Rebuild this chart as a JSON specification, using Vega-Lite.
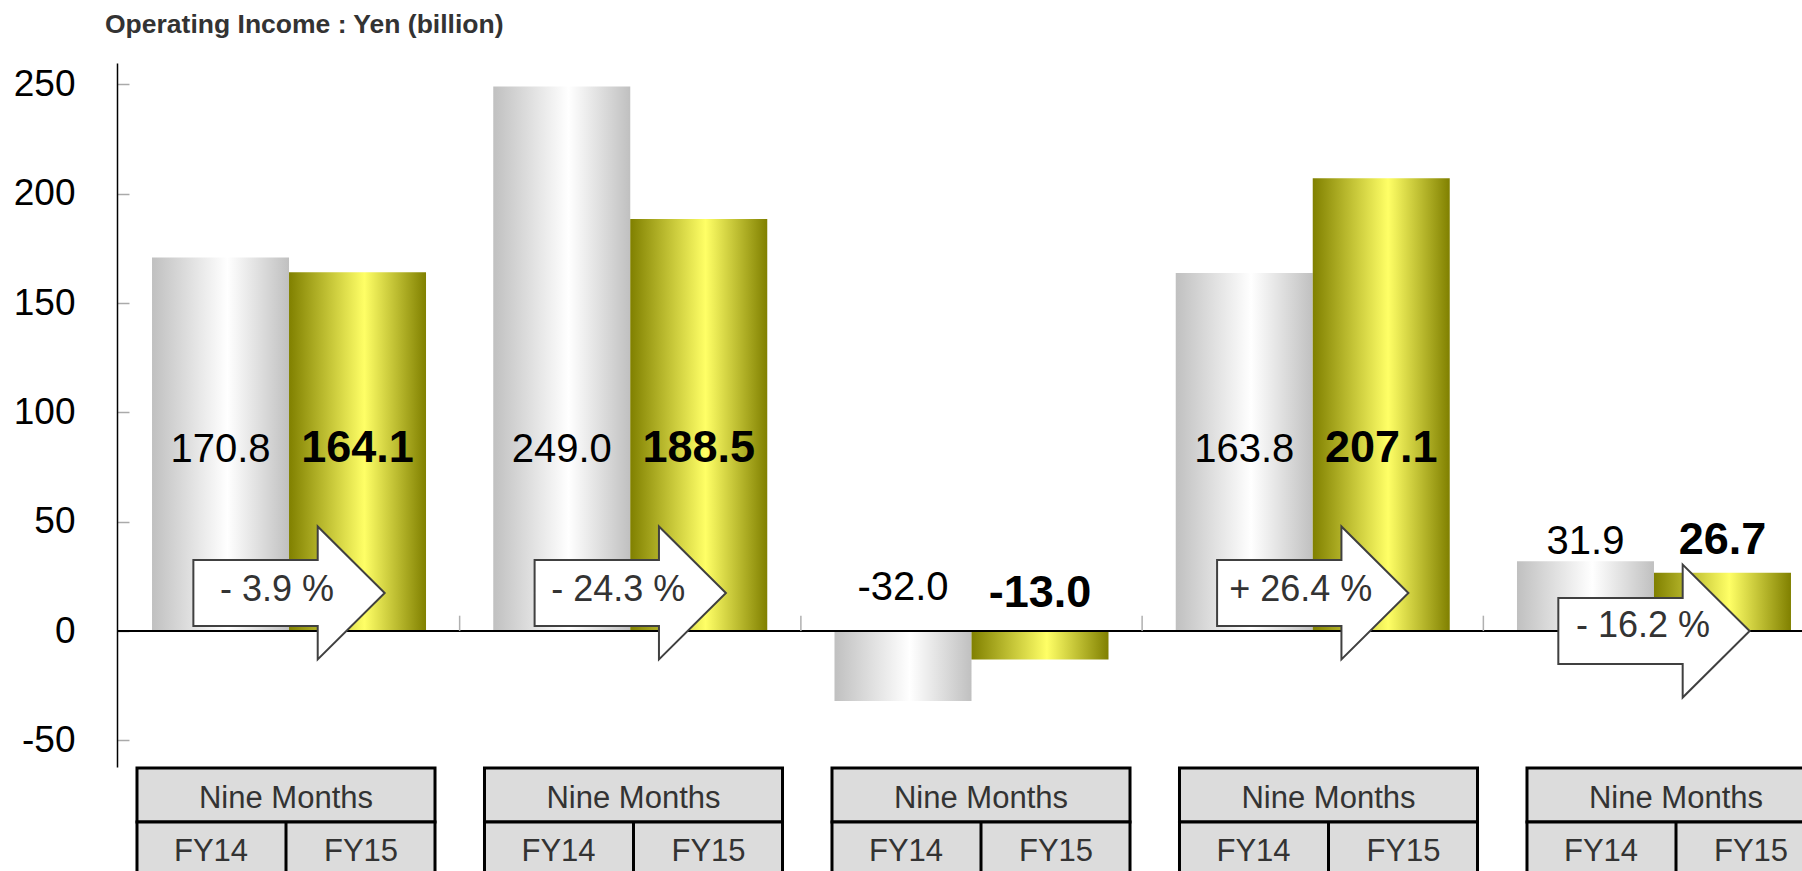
{
  "$schema": "https://vega.github.io/schema/vega-lite/v6.json",
  "width": 1685,
  "height": 808,
  "autosize": {"type": "none"},
  "padding": {"left": 117, "top": 63, "right": 0, "bottom": 0},
  "background": "white",
  "config": {
    "view": {"stroke": null},
    "font": "Liberation Sans",
    "locale": {"number": {"decimal": ".", "thousands": ",", "grouping": [3], "currency": ["", ""], "minus": "-"}}
  },
  "title": {
    "text": "Operating Income : Yen (billion)",
    "anchor": "start",
    "frame": "group",
    "fontSize": 26.5,
    "fontWeight": "bold",
    "color": "#333333",
    "font": "Liberation Sans",
    "dx": -12,
    "offset": 4,
    "baseline": "alphabetic"
  },
  "datasets": {
    "bars": [
      {"group": "G1", "series": "FY14", "value": 170.8},
      {"group": "G1", "series": "FY15", "value": 164.1},
      {"group": "G2", "series": "FY14", "value": 249.0},
      {"group": "G2", "series": "FY15", "value": 188.5},
      {"group": "G3", "series": "FY14", "value": -32.0},
      {"group": "G3", "series": "FY15", "value": -13.0},
      {"group": "G4", "series": "FY14", "value": 163.8},
      {"group": "G4", "series": "FY15", "value": 207.1},
      {"group": "G5", "series": "FY14", "value": 31.9},
      {"group": "G5", "series": "FY15", "value": 26.7}
    ],
    "arrows": [
      {"group": "G1", "change": "- 3.9 %"},
      {"group": "G2", "change": "- 24.3 %"},
      {"group": "G4", "change": "+ 26.4 %"},
      {"group": "G5", "change": "- 16.2 %"}
    ],
    "tables": [
      {"group": "G1", "period": "Nine Months", "left": "FY14", "right": "FY15"},
      {"group": "G2", "period": "Nine Months", "left": "FY14", "right": "FY15"},
      {"group": "G3", "period": "Nine Months", "left": "FY14", "right": "FY15"},
      {"group": "G4", "period": "Nine Months", "left": "FY14", "right": "FY15"},
      {"group": "G5", "period": "Nine Months", "left": "FY14", "right": "FY15"}
    ]
  },
  "layer": [
    {
      "layer": [
        {
          "data": {"name": "bars"},
          "transform": [{"filter": "datum.series === 'FY14'"}],
          "mark": {
            "type": "bar",
            "fill": {"gradient": "linear", "x1": 0, "y1": 0, "x2": 1, "y2": 0,
              "stops": [{"offset": 0, "color": "#c0c0c0"}, {"offset": 0.55, "color": "#ffffff"}, {"offset": 1, "color": "#c0c0c0"}]}
          },
          "encoding": {
            "x": {"field": "group", "type": "nominal", "axis": null,
              "scale": {"domain": ["G1", "G2", "G3", "G4", "G5"], "range": [1.4, 1707.6], "paddingInner": 0, "paddingOuter": 0}},
            "xOffset": {"field": "series", "type": "nominal",
              "scale": {"domain": ["FY14", "FY15"], "paddingInner": 0, "paddingOuter": 0.2454}},
            "y": {"field": "value", "type": "quantitative",
              "scale": {"domain": [-62.2, 259.8], "range": [704, 0], "nice": false, "zero": false},
              "axis": {"values": [-50, 0, 50, 100, 150, 200, 250], "title": null, "grid": false,
                "labelFontSize": 37, "labelColor": "black", "labelFont": "Liberation Sans",
                "domainColor": "black", "domainWidth": 1.5,
                "tickColor": "#aaaaaa", "tickSize": -12, "tickWidth": 1.5, "labelPadding": 54}},
            "y2": {"datum": 0}
          }
        },
        {
          "data": {"name": "bars"},
          "transform": [{"filter": "datum.series === 'FY15'"}],
          "mark": {
            "type": "bar",
            "fill": {"gradient": "linear", "x1": 0, "y1": 0, "x2": 1, "y2": 0,
              "stops": [{"offset": 0, "color": "#808000"}, {"offset": 0.55, "color": "#ffff66"}, {"offset": 1, "color": "#808000"}]}
          },
          "encoding": {
            "x": {"field": "group", "type": "nominal"},
            "xOffset": {"field": "series", "type": "nominal"},
            "y": {"field": "value", "type": "quantitative"},
            "y2": {"datum": 0}
          }
        },
        {
          "data": {"name": "bars"},
          "mark": {"type": "rule", "color": "black", "strokeWidth": 1.5},
          "encoding": {"y": {"datum": 0, "type": "quantitative"}}
        },
        {
          "data": {"name": "bars"},
          "transform": [{"filter": "datum.series === 'FY14' && datum.group !== 'G1'"}],
          "mark": {"type": "rule", "color": "#b0b0b0", "strokeWidth": 1.5},
          "encoding": {
            "x": {"field": "group", "type": "nominal", "bandPosition": 0},
            "y": {"datum": 0, "type": "quantitative"},
            "y2": {"datum": 7}
          }
        },
        {
          "data": {"name": "arrows"},
          "transform": [{"filter": "datum.group !== 'G5'"}],
          "mark": {"type": "point", "shape": "M-1,-0.345L0.3,-0.345L0.3,-0.695L1,0L0.3,0.695L0.3,0.345L-1,0.345Z",
            "size": 36600, "filled": true, "fill": "white", "fillOpacity": 1, "opacity": 1, "stroke": "#404040", "strokeWidth": 2},
          "encoding": {"x": {"field": "group", "type": "nominal"}, "y": {"datum": 17.4, "type": "quantitative"}}
        },
        {
          "data": {"name": "arrows"},
          "transform": [{"filter": "datum.group === 'G5'"}],
          "mark": {"type": "point", "shape": "M-1,-0.345L0.3,-0.345L0.3,-0.695L1,0L0.3,0.695L0.3,0.345L-1,0.345Z",
            "size": 36600, "filled": true, "fill": "white", "fillOpacity": 1, "opacity": 1, "stroke": "#404040", "strokeWidth": 2},
          "encoding": {"x": {"field": "group", "type": "nominal"}, "y": {"datum": 0, "type": "quantitative"}}
        },
        {
          "data": {"name": "arrows"},
          "transform": [{"filter": "datum.group !== 'G5'"}],
          "mark": {"type": "text", "fontSize": 36, "color": "#333333", "dx": -12, "dy": 8, "baseline": "alphabetic", "align": "center"},
          "encoding": {"x": {"field": "group", "type": "nominal"}, "y": {"datum": 17.4, "type": "quantitative"}, "text": {"field": "change"}}
        },
        {
          "data": {"name": "arrows"},
          "transform": [{"filter": "datum.group === 'G5'"}],
          "mark": {"type": "text", "fontSize": 36, "color": "#333333", "dx": -11, "dy": 6, "baseline": "alphabetic", "align": "center"},
          "encoding": {"x": {"field": "group", "type": "nominal"}, "y": {"datum": 0, "type": "quantitative"}, "text": {"field": "change"}}
        },
        {
          "data": {"name": "bars"},
          "transform": [{"filter": "datum.series === 'FY14' && (datum.group === 'G1' || datum.group === 'G2' || datum.group === 'G4')"}],
          "mark": {"type": "text", "fontSize": 40, "color": "black", "baseline": "alphabetic", "align": "center"},
          "encoding": {"x": {"field": "group", "type": "nominal"}, "xOffset": {"field": "series", "type": "nominal"},
            "y": {"datum": 77.5, "type": "quantitative"}, "text": {"field": "value", "type": "quantitative", "format": ".1f"}}
        },
        {
          "data": {"name": "bars"},
          "transform": [{"filter": "datum.series === 'FY15' && (datum.group === 'G1' || datum.group === 'G2' || datum.group === 'G4')"}],
          "mark": {"type": "text", "fontSize": 45, "fontWeight": "bold", "color": "black", "baseline": "alphabetic", "align": "center"},
          "encoding": {"x": {"field": "group", "type": "nominal"}, "xOffset": {"field": "series", "type": "nominal"},
            "y": {"datum": 77.5, "type": "quantitative"}, "text": {"field": "value", "type": "quantitative", "format": ".1f"}}
        },
        {
          "data": {"name": "bars"},
          "transform": [{"filter": "datum.series === 'FY14' && datum.group === 'G3'"}],
          "mark": {"type": "text", "fontSize": 40, "color": "black", "baseline": "alphabetic", "align": "center"},
          "encoding": {"x": {"field": "group", "type": "nominal"}, "xOffset": {"field": "series", "type": "nominal"},
            "y": {"datum": 14.2, "type": "quantitative"}, "text": {"field": "value", "type": "quantitative", "format": ".1f"}}
        },
        {
          "data": {"name": "bars"},
          "transform": [{"filter": "datum.series === 'FY15' && datum.group === 'G3'"}],
          "mark": {"type": "text", "fontSize": 45, "fontWeight": "bold", "color": "black", "baseline": "alphabetic", "align": "center"},
          "encoding": {"x": {"field": "group", "type": "nominal"}, "xOffset": {"field": "series", "type": "nominal"},
            "y": {"datum": 11.0, "type": "quantitative"}, "text": {"field": "value", "type": "quantitative", "format": ".1f"}}
        },
        {
          "data": {"name": "bars"},
          "transform": [{"filter": "datum.series === 'FY14' && datum.group === 'G5'"}],
          "mark": {"type": "text", "fontSize": 40, "color": "black", "baseline": "alphabetic", "align": "center"},
          "encoding": {"x": {"field": "group", "type": "nominal"}, "xOffset": {"field": "series", "type": "nominal"},
            "y": {"datum": 35.2, "type": "quantitative"}, "text": {"field": "value", "type": "quantitative", "format": ".1f"}}
        },
        {
          "data": {"name": "bars"},
          "transform": [{"filter": "datum.series === 'FY15' && datum.group === 'G5'"}],
          "mark": {"type": "text", "fontSize": 45, "fontWeight": "bold", "color": "black", "baseline": "alphabetic", "align": "center"},
          "encoding": {"x": {"field": "group", "type": "nominal"}, "xOffset": {"field": "series", "type": "nominal"},
            "y": {"datum": 35.2, "type": "quantitative"}, "text": {"field": "value", "type": "quantitative", "format": ".1f"}}
        }
      ]
    },
    {
      "data": {"name": "tables"},
      "layer": [
        {
          "mark": {"type": "rect", "fill": "#dcdcdc", "stroke": "black", "strokeWidth": 3},
          "encoding": {
            "x": {"field": "group", "type": "nominal", "axis": null,
              "scale": {"domain": ["G1", "G2", "G3", "G4", "G5"], "range": [-4.75, 1732.75], "paddingInner": 0.1424, "paddingOuter": 0.0712}},
            "y": {"datum": -62.7, "type": "quantitative"},
            "y2": {"datum": -87.4}
          }
        },
        {
          "mark": {"type": "rect", "fill": "#dcdcdc", "stroke": "black", "strokeWidth": 3},
          "encoding": {
            "x": {"field": "group", "type": "nominal"},
            "y": {"datum": -87.4, "type": "quantitative"},
            "y2": {"datum": -112.5}
          }
        },
        {
          "mark": {"type": "rule", "color": "black", "strokeWidth": 3},
          "encoding": {
            "x": {"field": "group", "type": "nominal", "bandPosition": 0.5},
            "y": {"datum": -87.4, "type": "quantitative"},
            "y2": {"datum": -112.5}
          }
        },
        {
          "mark": {"type": "text", "fontSize": 31, "color": "#333333", "baseline": "alphabetic", "align": "center"},
          "encoding": {"x": {"field": "group", "type": "nominal"}, "y": {"datum": -80.95, "type": "quantitative"}, "text": {"field": "period"}}
        },
        {
          "mark": {"type": "text", "fontSize": 31, "color": "#333333", "baseline": "alphabetic", "align": "center", "dx": -75},
          "encoding": {"x": {"field": "group", "type": "nominal"}, "y": {"datum": -105.2, "type": "quantitative"}, "text": {"field": "left"}}
        },
        {
          "mark": {"type": "text", "fontSize": 31, "color": "#333333", "baseline": "alphabetic", "align": "center", "dx": 75},
          "encoding": {"x": {"field": "group", "type": "nominal"}, "y": {"datum": -105.2, "type": "quantitative"}, "text": {"field": "right"}}
        }
      ]
    }
  ],
  "resolve": {"scale": {"x": "independent"}}
}
